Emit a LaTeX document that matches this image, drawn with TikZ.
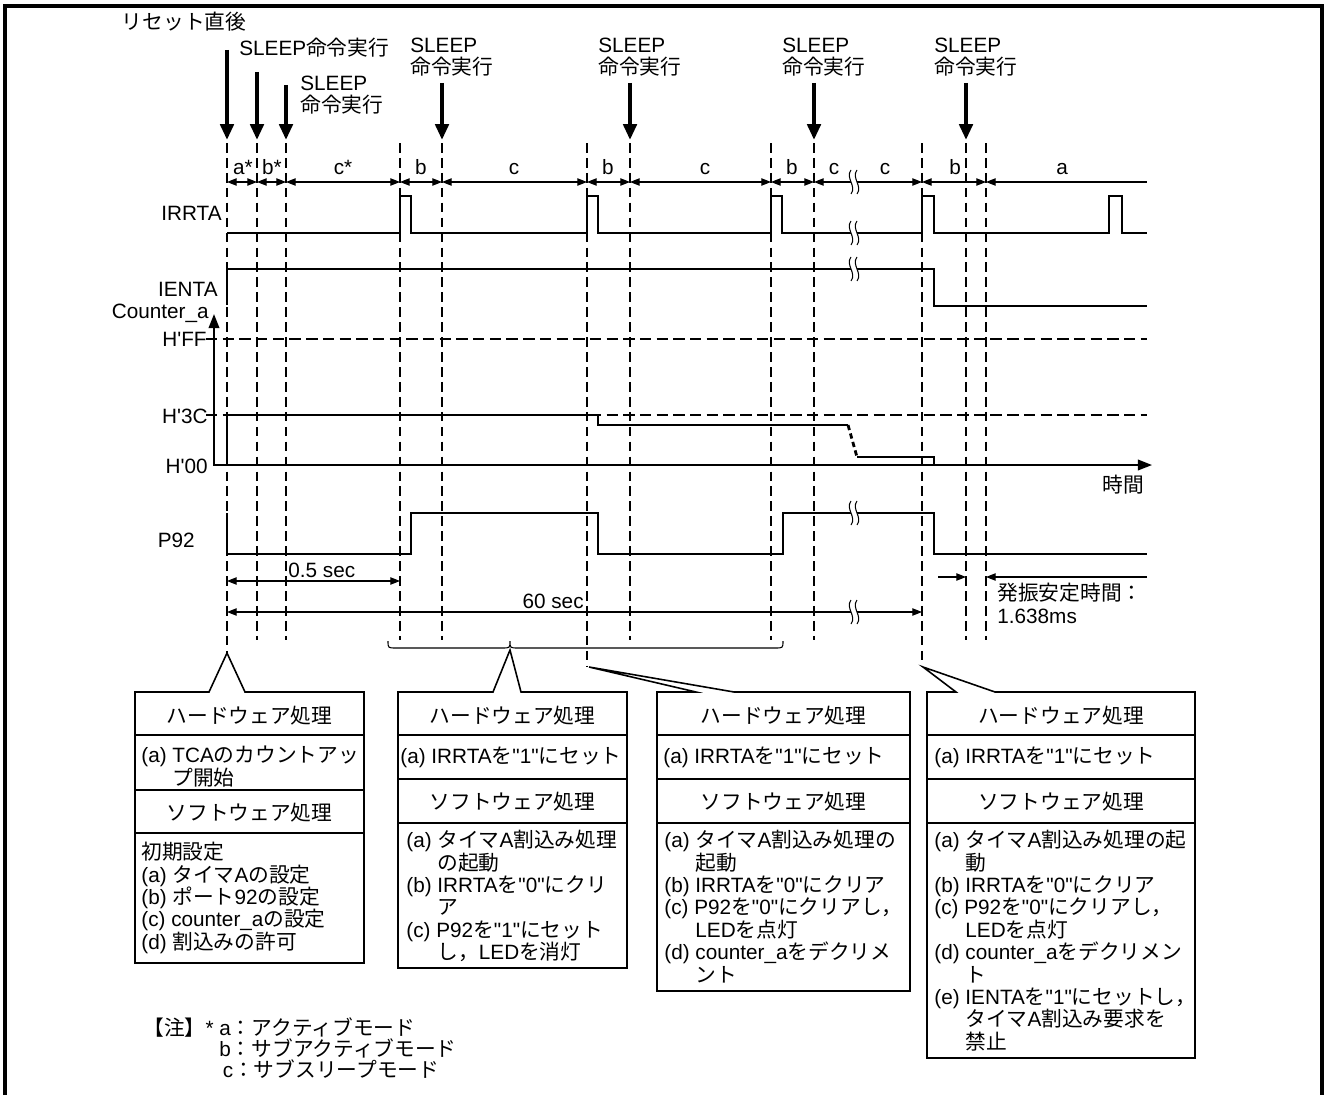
\documentclass[tikz,border=0pt]{standalone}
\usepackage{fontspec}
\setmainfont{Liberation Sans}[Ligatures=TeXOff]
\newfontfamily\jpfont{Noto Sans CJK JP}
\usetikzlibrary{arrows.meta}

% Japanese face for kana, kanji and full-width forms
\XeTeXinterchartokenstate=1
\newXeTeXintercharclass\jpchars
\newcount\jpcode
\newcommand{\jprange}[2]{%
  \jpcode=#1\relax
  \loop
    \XeTeXcharclass\jpcode=\jpchars
  \ifnum\jpcode<#2\relax
    \advance\jpcode by 1
  \repeat}
\jprange{"3000}{"30FF}
\jprange{"4E00}{"9FFF}
\jprange{"FF00}{"FFEF}
\XeTeXinterchartoks 0 \jpchars = {\jpfont}
\XeTeXinterchartoks 4095 \jpchars = {\jpfont}
\XeTeXinterchartoks \jpchars 0 = {\rmfamily}
\XeTeXinterchartoks \jpchars 4095 = {\rmfamily}

\newcommand{\subind}{\hspace*{1.5em}}
% break mark on a line
\newcommand{\gapmark}[2]{%
  \fill[white] (#1-3,#2-12) .. controls (#1-9,#2-4) and (#1+3,#2+4) .. (#1-3,#2+12)
    -- (#1+3,#2+12) .. controls (#1+9,#2+4) and (#1-3,#2-4) .. (#1+3,#2-12) -- cycle;
  \draw[line width=0.6pt] (#1-3,#2-12) .. controls (#1-9,#2-4) and (#1+3,#2+4) .. (#1-3,#2+12);
  \draw[line width=0.6pt] (#1+3,#2-12) .. controls (#1-3,#2-4) and (#1+9,#2+4) .. (#1+3,#2+12);}

\begin{document}
\begin{tikzpicture}[x=0.02cm,y=-0.02cm,
    every node/.style={font=\fontsize{11.8}{12.75}\selectfont,inner sep=0pt},
    border/.style={line width=2.2pt},
    sig/.style={line width=1.6pt},
    guide/.style={line width=0.6pt,dash pattern=on 5.5pt off 3pt},
    levelline/.style={line width=0.6pt,dash pattern=on 6.5pt off 3pt},
    axisline/.style={line width=1.1pt},
    modespan/.style={line width=0.6pt,{Triangle[length=5.5pt,width=4.2pt]}-{Triangle[length=5.5pt,width=4.2pt]}},
    leftspan/.style={line width=0.6pt,{Triangle[length=5.5pt,width=4.2pt]}-},
    rightspan/.style={line width=0.6pt,-{Triangle[length=5.5pt,width=4.2pt]}},
    exec/.style={line width=2.4pt,-{Triangle[length=9pt,width=7.5pt]}},
    panel/.style={line width=0.9pt},
    thin/.style={line width=0.6pt}]
    \useasboundingbox (0,0) rectangle (1324,1095);

    % Frame
    \draw[border] (5,1095) -- (5,6) -- (1322,6) -- (1322,1095);

    % Reset and SLEEP labels
    \node (reset) at (184,22) {リセット直後};
    \node[anchor=west] (sleepA) at (239,48) {SLEEP命令実行};
    \node[anchor=west,align=left] (sleepB) at (300,95) {SLEEP\\命令実行};
    \foreach \x [count=\i] in {442,630,814,966}
        \node[anchor=west,align=left] (sleep\i) at (\x-32,57) {SLEEP\\命令実行};

    % Execution arrows
    \foreach \x/\y in {227/50,257/72,286/85,442/83,630/83,814/83,966/83}
        \draw[exec] (\x,\y) -- (\x,140);

    % Mode boundaries
    \foreach \x/\y in {227/653,257/640,286/640,400/640,442/640,587/666,630/640,771/640,814/640,922/666,966/640,986/640}
        \draw[guide] (\x,143) -- (\x,\y);

    % Mode spans
    \foreach \xa/\xb in {227/257,257/286,286/400,400/442,442/587,587/630,630/771,771/814,814/922,922/986}
        \draw[modespan] (\xa,182) -- (\xb,182);
    \draw[leftspan] (986,182) -- (1147,182);
    \gapmark{854}{182}
    \foreach \x/\t [count=\i] in {243/a*,272/b*,343/c*,421/b,514/c,608/b,705/c,792/b,834/c,885/c,955/b,1062/a}
        \node[anchor=base] (mode\i) at (\x,174) {\t};

    % IRRTA
    \node[anchor=east] (irrta) at (222,213) {IRRTA};
    \draw[sig] (227,233) -- (400,233) -- (400,196) -- (411,196) -- (411,233)
        -- (587,233) -- (587,196) -- (598,196) -- (598,233)
        -- (771,233) -- (771,196) -- (782,196) -- (782,233)
        -- (922,233) -- (922,196) -- (934,196) -- (934,233)
        -- (1109,233) -- (1109,196) -- (1122,196) -- (1122,233) -- (1147,233);
    \gapmark{854}{233}

    % IENTA
    \node[anchor=east] (ienta) at (218,289) {IENTA};
    \draw[sig] (227,305) -- (227,269) -- (934,269) -- (934,306) -- (1147,306);
    \gapmark{854}{269}

    % Counter_a
    \node[anchor=east] (cnt) at (209,313) {Counter\_a};
    \node[anchor=east] (hff) at (207,339) {H'FF};
    \node[anchor=east] (h3c) at (208,416) {H'3C};
    \node[anchor=east] (h00) at (208,466) {H'00};
    \draw[levelline] (206,339) -- (1147,339);
    \draw[levelline] (206,415) -- (1147,415);
    \draw[axisline,{Triangle[length=8pt,width=6pt]}-{Triangle[length=8pt,width=6pt]}] (214,314) -- (214,465) -- (1152,465);
    \node (time) at (1123,485) {時間};
    \draw[sig] (227,465) -- (227,415) -- (598,415) -- (598,425) -- (848,425);
    \draw[sig,dash pattern=on 3pt off 2pt] (848,425) -- (857,457);
    \draw[sig] (857,457) -- (934,457) -- (934,465) -- (1136,465);

    % P92
    \node[anchor=east] (p92) at (195,540) {P92};
    \draw[sig] (227,513) -- (227,554) -- (411,554) -- (411,513) -- (598,513) -- (598,554)
        -- (783,554) -- (783,513) -- (934,513) -- (934,554) -- (1147,554);
    \gapmark{854}{513}

    % Time spans
    \draw[modespan] (227,581) -- (400,581);
    \node[anchor=west] (halfsec) at (288,570) {0.5 sec};
    \draw[modespan] (227,612) -- (922,612);
    \gapmark{854}{612}
    \node[anchor=east] (minute) at (584,601) {60 sec};
    \draw[rightspan] (938,577) -- (966,577);
    \draw[rightspan] (1147,577) -- (986,577);
    \node[anchor=west] (osc) at (997,593) {発振安定時間：};
    \node[anchor=west] (osctime) at (997,616) {1.638ms};

    % Brace over the SLEEP periods
    \draw[thin] (388,641) .. controls (388,648) .. (396,648) -- (502,648)
        .. controls (510,648) .. (510,641) .. controls (510,648) .. (518,648)
        -- (775,648) .. controls (783,648) .. (783,641);

    % Box 1
    \draw[panel] (135,692) -- (209,692) -- (227,653) -- (245,692) -- (364,692)
        -- (364,963) -- (135,963) -- cycle;
    \draw[panel] (135,735) -- (364,735) (135,790) -- (364,790) (135,833) -- (364,833);
    \node (hw1) at (249.5,716) {ハードウェア処理};
    \node[anchor=north west,align=left] (hwt1) at (141,746) {(a) TCAのカウントアッ\\\subind プ開始};
    \node (sw1) at (249.5,813) {ソフトウェア処理};
    \node[anchor=north west,align=left] (swt1) at (141,842)
        {初期設定\\(a) タイマAの設定\\(b) ポート92の設定\\(c) counter\_aの設定\\(d) 割込みの許可};

    % Box 2
    \draw[panel] (398,692) -- (493,692) -- (510,650) -- (521,692) -- (627,692)
        -- (627,968) -- (398,968) -- cycle;
    \draw[panel] (398,735) -- (627,735) (398,779) -- (627,779) (398,823) -- (627,823);
    \node (hw2) at (512.5,716) {ハードウェア処理};
    \node[anchor=west] (hwt2) at (400,757) {(a) IRRTAを"1"にセット};
    \node (sw2) at (512.5,802) {ソフトウェア処理};
    \node[anchor=north west,align=left] (swt2) at (406,830)
        {(a) タイマA割込み処理\\\subind の起動\\(b) IRRTAを"0"にクリ\\\subind ア\\(c) P92を"1"にセット\\\subind し，LEDを消灯};

    % Box 3
    \draw[panel] (657,692) -- (696,692) -- (589,667) -- (734,692) -- (910,692)
        -- (910,991) -- (657,991) -- cycle;
    \draw[panel] (657,735) -- (910,735) (657,779) -- (910,779) (657,823) -- (910,823);
    \node (hw3) at (783.5,716) {ハードウェア処理};
    \node[anchor=west] (hwt3) at (663,757) {(a) IRRTAを"1"にセット};
    \node (sw3) at (783.5,802) {ソフトウェア処理};
    \node[anchor=north west,align=left] (swt3) at (664,830)
        {(a) タイマA割込み処理の\\\subind 起動\\(b) IRRTAを"0"にクリア\\(c) P92を"0"にクリアし，\\\subind LEDを点灯\\(d) counter\_aをデクリメ\\\subind ント};

    % Box 4
    \draw[panel] (927,692) -- (956,692) -- (923,667) -- (995,692) -- (1195,692)
        -- (1195,1058) -- (927,1058) -- cycle;
    \draw[panel] (927,735) -- (1195,735) (927,779) -- (1195,779) (927,823) -- (1195,823);
    \node (hw4) at (1061,716) {ハードウェア処理};
    \node[anchor=west] (hwt4) at (934,757) {(a) IRRTAを"1"にセット};
    \node (sw4) at (1061,802) {ソフトウェア処理};
    \node[anchor=north west,align=left] (swt4) at (934,830)
        {(a) タイマA割込み処理の起\\\subind 動\\(b) IRRTAを"0"にクリア\\(c) P92を"0"にクリアし，\\\subind LEDを点灯\\(d) counter\_aをデクリメン\\\subind ト\\(e) IENTAを"1"にセットし，\\\subind タイマA割込み要求を\\\subind 禁止};

    % Note
    \node[anchor=north west,align=left,
        font=\fontsize{11.8}{12}\selectfont] (note) at (143,1017)
        {【注】* a：アクティブモード\\\phantom{【注】* }b：サブアクティブモード\\\phantom{【注】* }\hspace*{2pt}c：サブスリープモード};
\end{tikzpicture}
\end{document}
